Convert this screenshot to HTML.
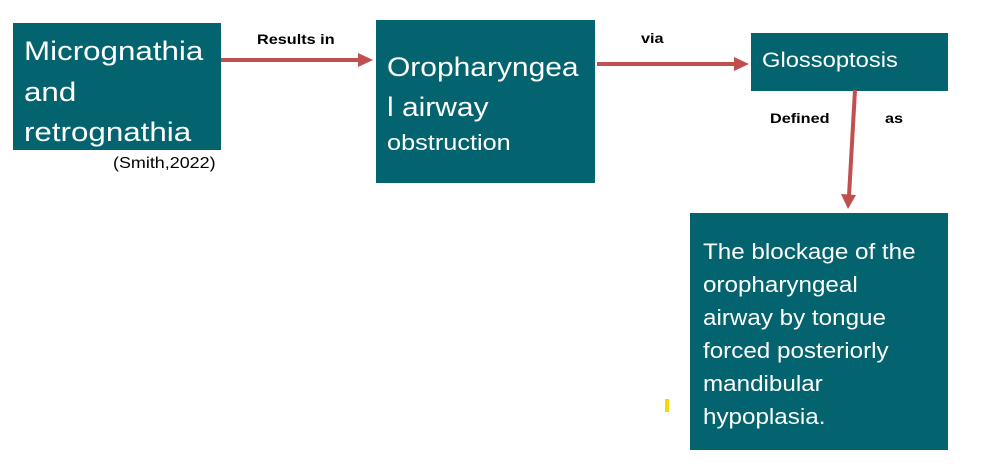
<!DOCTYPE html>
<html><head><meta charset="utf-8"><style>
body{margin:0;width:986px;height:466px;background:#fff;position:relative;overflow:hidden;font-family:"Liberation Sans",sans-serif}
.b{position:absolute;background:#03636e;color:#fff;overflow:hidden}
.t{position:absolute;white-space:nowrap;transform-origin:0 0}
.l{position:absolute;white-space:nowrap;font-weight:bold;font-size:14px;color:#000;transform:scaleX(1.16);transform-origin:0 0}
</style></head><body>
<div class="b" style="left:13px;top:23px;width:208px;height:127px">
<div class="t" style="left:11px;top:8px;font-size:27px;line-height:40.5px;transform:scaleX(1.16)">Micrognathia<br>and<br>retrognathia</div></div>
<div class="t" style="left:113px;top:155px;font-size:16px;color:#000;transform:scaleX(1.12)">(Smith,2022)</div>
<div class="b" style="left:376px;top:20px;width:219px;height:163px">
<div class="t" style="left:11px;top:27px;font-size:27px;line-height:40px;transform:scaleX(1.11)">Oropharyngea<br>l airway</div>
<div class="t" style="left:11px;top:110px;font-size:22px;transform:scaleX(1.15)">obstruction</div></div>
<div class="b" style="left:751px;top:33px;width:197px;height:58px">
<div class="t" style="left:11px;top:16px;font-size:21px;transform:scaleX(1.13)">Glossoptosis</div></div>
<div class="b" style="left:690px;top:213px;width:258px;height:237px">
<div class="t" style="left:13px;top:22px;font-size:22px;line-height:33px;transform:scaleX(1.1)">The blockage of the<br>oropharyngeal<br>airway by tongue<br>forced posteriorly<br>mandibular<br>hypoplasia.</div></div>
<div class="l" style="left:257px;top:31px">Results in</div>
<div class="l" style="left:641px;top:30px">via</div>
<div class="l" style="left:770px;top:110px">Defined</div>
<div class="l" style="left:885px;top:110px">as</div>
<div style="position:absolute;left:665px;top:399px;width:4px;height:13px;background:#f5d800"></div>
<svg width="986" height="466" style="position:absolute;left:0;top:0">
<g stroke="#c0504d" stroke-width="4" fill="#c0504d">
<line x1="221" y1="60" x2="360" y2="60"/><polygon points="358,53 373,60 358,67" stroke="none"/>
<line x1="597" y1="64" x2="736" y2="64"/><polygon points="734,57 749,64 734,71" stroke="none"/>
<line x1="855" y1="90" x2="849" y2="196"/><polygon points="841,194 848,209 856,195" stroke="none"/>
</g></svg>
</body></html>
